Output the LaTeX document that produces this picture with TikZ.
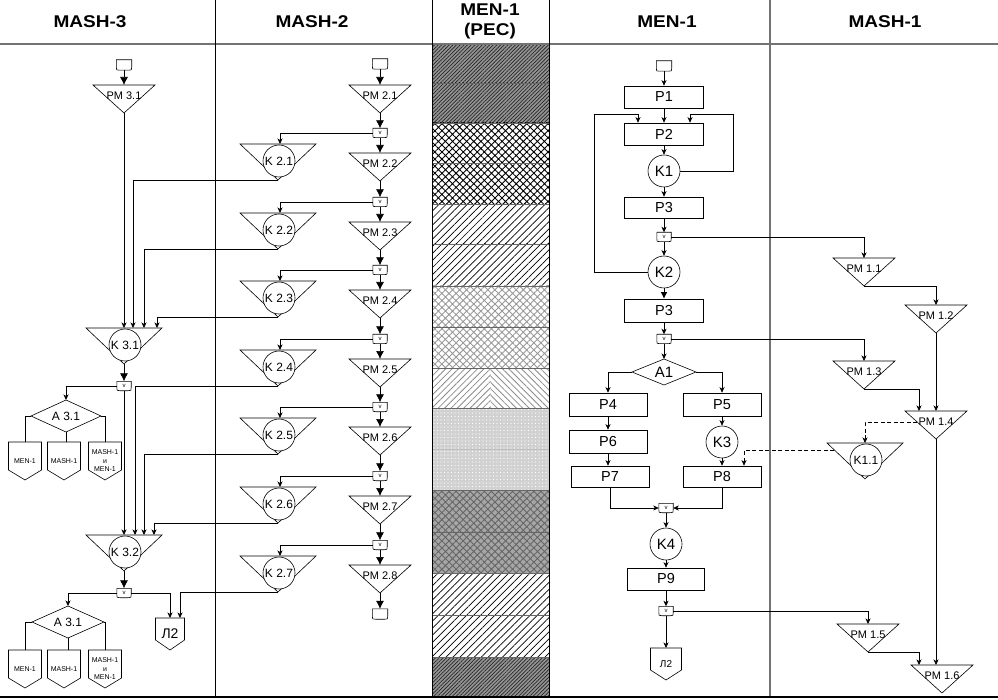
\documentclass[tikz,border=0pt]{standalone}
\usepackage{fontspec}
\setmainfont{Liberation Sans}
\newfontfamily\hdrfont[FakeStretch=1.12]{Liberation Sans}
\usetikzlibrary{arrows.meta,patterns.meta,calc}

\newcommand\mkpm[4]{%
  \draw[shp] (#2-31,#3) -- (#2+31,#3) -- (#2,#3+28) -- cycle;
  \node[pml] (#1) at (#2,#3+11) {#4};
  \coordinate (#1-t) at (#2,#3);
  \coordinate (#1-b) at (#2,#3+28);
  \coordinate (#1-w) at (#2-19,#3+11);}
\newcommand\mkk[4]{%
  \draw[shp] (#2-38,#3) -- (#2+38,#3) -- (#2,#3+36) -- cycle;
  \node[kcirc] (#1) at (#2+1,#3+17) {#4};
  \coordinate (#1-t) at (#2,#3);
  \coordinate (#1-b) at (#2,#3+36);
  \coordinate (#1-w) at (#2-31,#3+7);}
\newcommand\mkrb[5]{%
  \node[#4] (#1) at (#2,#3) {#5};
  \draw[shp] (#1.north west) -- (#1.north east) -- ([yshift=3pt]#1.south east) .. controls (#1.south east) .. ([xshift=-3pt]#1.south east) -- ([xshift=3pt]#1.south west) .. controls (#1.south west) .. ([yshift=3pt]#1.south west) -- cycle;}
\newcommand\mkoff[7]{%
  \draw[shp] (#2-#4/2,#3) -- (#2+#4/2,#3) -- (#2+#4/2,#3+#5) -- (#2,#3+#5+10) -- (#2-#4/2,#3+#5) -- cycle;
  \node[inner sep=0,align=center,#6] (#1) at (#2,#3+#5/2+5) {#7};
  \coordinate (#1-t) at (#2,#3);}
\newcommand\mkdmd[6]{%
  \draw[shp] (#2-#4,#3) -- (#2,#3-#5) -- (#2+#4,#3) -- (#2,#3+#5) -- cycle;
  \node[inner sep=0] (#1) at (#2,#3) {#6};
  \coordinate (#1-l) at (#2-#4,#3);
  \coordinate (#1-r) at (#2+#4,#3);
  \coordinate (#1-t) at (#2,#3-#5);
  \coordinate (#1-b) at (#2,#3+#5);}

\begin{document}
\begin{tikzpicture}[x=1pt,y=-1pt,
  shp/.style={draw=black,line width=0.6pt},
  ln/.style={draw=black,line width=0.7pt},
  arr/.style={ln,-{Stealth[length=5.5pt,width=5pt,inset=1.5pt]}},
  barr/.style={ln,-{Latex[length=8pt,width=8pt]}},
  darr/.style={arr,dash pattern=on 4pt off 2.5pt},
  pml/.style={font=\fontsize{11}{11}\selectfont,inner sep=0},
  kcirc/.style={circle,draw,line width=0.6pt,fill=white,minimum size=32pt,inner sep=0,font=\fontsize{12}{12}\selectfont},
  kbig/.style={kcirc,font=\fontsize{15}{15}\selectfont},
  prect/.style={draw,line width=0.6pt,minimum width=79pt,minimum height=22pt,inner sep=0,font=\fontsize{14.5}{14.5}\selectfont},
  vc/.style={minimum width=14pt,minimum height=9pt,inner sep=0,font=\fontsize{6}{6}\selectfont},
  tm/.style={minimum width=15pt,minimum height=10pt,inner sep=0},
  hdr/.style={font=\hdrfont\bfseries\fontsize{17}{20}\selectfont,align=center,inner sep=0},
  offs/.style={font=\fontsize{7}{8.5}\selectfont},
  offl/.style={font=\fontsize{14}{16}\selectfont},
  offm/.style={font=\fontsize{10}{12}\selectfont},
  bdark/.style={preaction={fill=black!42},pattern={Lines[angle=45,distance=2.6pt,line width=0.7pt]},pattern color=black!85},
  bcross/.style={pattern={Hatch[angle=45,distance=5pt,line width=0.9pt]},pattern color=black},
  bdiag/.style={pattern={Lines[angle=45,distance=5pt,line width=0.7pt]},pattern color=black},
  bgcross/.style={pattern={Hatch[angle=45,distance=5pt,line width=0.9pt]},pattern color=black!40},
  bchevL/.style={pattern={Lines[angle=45,distance=4.5pt,line width=0.8pt]},pattern color=black!45},
  bchevR/.style={pattern={Lines[angle=-45,distance=4.5pt,line width=0.8pt]},pattern color=black!45},
  blight/.style={preaction={fill=black!18},pattern={Dots[distance=3.5pt,radius=0.7pt]},pattern color=white},
  bdgcross/.style={preaction={fill=black!35},pattern={Hatch[angle=45,distance=5pt,line width=0.9pt]},pattern color=black!60}
]
\useasboundingbox (0,0) rectangle (998,700);
\fill[white] (0,0) rectangle (998,700);

% ---- hatched column MEN-1 (PEC)
\path[bdark] (432,45) rectangle (549,83);
\path[bdark] (432,83) rectangle (549,123);
\path[bcross] (432,123) rectangle (549,163);
\path[bcross] (432,163) rectangle (549,204);
\path[bdiag] (432,204) rectangle (549,244);
\path[bdiag] (432,244) rectangle (549,286);
\path[bgcross] (432,286) rectangle (549,327);
\path[bgcross] (432,327) rectangle (549,368);
\path[bchevL] (432,368) rectangle (490.5,408);
\path[bchevR] (490.5,368) rectangle (549,408);
\path[blight] (432,408) rectangle (549,449);
\path[blight] (432,449) rectangle (549,490);
\path[bdgcross] (432,490) rectangle (549,532);
\path[bdgcross] (432,532) rectangle (549,573);
\path[bdiag] (432,573) rectangle (549,615);
\path[bdiag] (432,615) rectangle (549,657);
\path[bdark] (432,657) rectangle (549,697);
\foreach \yy in {83,123,163,204,244,286,327,368,408,490,532,573,615,657}
  \draw[black!60,line width=0.6pt] (432,\yy) -- (549,\yy);
\draw[black!25,line width=0.5pt] (432,449) -- (549,449);

% ---- frame
\draw[black!55,line width=2pt] (0,44) -- (998,44);
\draw[line width=0.9pt] (215,0) -- (215,697);
\draw[line width=0.9pt] (432,0) -- (432,697);
\draw[line width=0.9pt] (549,0) -- (549,697);
\draw[black!55,line width=1.5pt] (770,0) -- (770,697);
\draw[line width=1.8pt] (0,697) -- (998,697);

\node[hdr] (hM3) at (90,22) {MASH-3};
\node[hdr] (hM2) at (312,22) {MASH-2};
\node[hdr] (hPEC) at (490,21) {MEN-1\\(PEC)};
\node[hdr] (hMEN) at (667,22) {MEN-1};
\node[hdr] (hM1) at (885,22) {MASH-1};

% ---- MASH-3
\mkrb{S3}{124}{65}{tm}{}
\mkpm{PM31}{124}{85}{PM 3.1}
\mkk{K31}{124}{328}{K 3.1}
\mkrb{v31}{124}{386}{vc}{v}
\mkdmd{A31a}{66}{416}{35}{16}{\fontsize{12}{12}\selectfont A 3.1}
\mkoff{O1a}{25}{442}{33}{28}{offs}{MEN-1}
\mkoff{O2a}{64}{442}{33}{28}{offs}{MASH-1}
\mkoff{O3a}{105}{442}{33}{28}{offs}{MASH-1\\и\\MEN-1}
\mkk{K32}{124}{535}{K 3.2}
\mkrb{v32}{124}{593}{vc}{v}
\mkdmd{A31b}{68}{622}{36}{16}{\fontsize{12}{12}\selectfont A 3.1}
\mkoff{O1b}{25}{650}{33}{28}{offs}{MEN-1}
\mkoff{O2b}{64}{650}{33}{28}{offs}{MASH-1}
\mkoff{O3b}{105}{650}{33}{28}{offs}{MASH-1\\и\\MEN-1}
\mkoff{L2a}{170}{618}{29}{22}{offl}{Л2}

\draw[barr] (S3) -- (PM31-t);
\draw[arr] (PM31-b) -- (K31-t);
\draw[barr] (K31-b) -- (v31);
\draw[arr] (v31.west) -| (A31a-t);
\draw[arr] (v31) -- (K32-t);
\draw[ln] (A31a-l) -| (O1a-t);
\draw[ln] (A31a-b) -- (A31a-b |- O2a-t);
\draw[ln] (A31a-r) -| (O3a-t);
\draw[barr] (K32-b) -- (v32);
\draw[arr] (v32.west) -| (A31b-t);
\draw[arr] (v32.east) -| (L2a-t);
\draw[ln] (A31b-l) -| (O1b-t);
\draw[ln] (A31b-b) -- (A31b-b |- O2b-t);
\draw[ln] (A31b-r) -| (O3b-t);

% ---- MASH-2
\mkrb{S2}{380}{64}{tm}{}
\mkpm{PM21}{380}{85}{PM 2.1}
\draw[barr] (S2) -- (PM21-t);
\foreach \i/\yy/\nn in {1/133/2,2/202/3,3/270/4,4/339/5,5/407/6,6/476/7,7/545/8}{
  \mkrb{v2\i}{380}{\yy}{vc}{v}
  \mkk{K2\i}{278}{\yy+11}{K 2.\i}
  \mkpm{PM2\nn}{380}{\yy+20}{PM 2.\nn}
  \draw[barr] (PM2\i-b) -- (v2\i);
  \draw[arr] (v2\i.west) -| ([xshift=2pt]K2\i-t);
  \draw[barr] (v2\i) -- (PM2\nn-t);
}
\mkrb{E2}{380}{614}{tm}{}
\draw[barr] (PM28-b) -- (E2);

\draw[arr] (K21-b) -| ([xshift=9pt]K31-t);
\draw[arr] (K22-b) -| ([xshift=20pt]K31-t);
\draw[arr] (K23-b) -| ([xshift=33pt]K31-t);
\draw[arr] (K24-b) -| ([xshift=11pt]K32-t);
\draw[arr] (K25-b) -| ([xshift=20pt]K32-t);
\draw[arr] (K26-b) -| ([xshift=30pt]K32-t);
\draw[arr] (K27-b) -| ([xshift=10pt]L2a-t);

% ---- MEN-1
\mkrb{S1}{664}{66}{tm}{}
\node[prect] (P1) at (664,97) {P1};
\node[prect] (P2) at (664,134) {P2};
\node[kbig] (K1) at (664,171) {K1};
\node[prect,minimum height=21pt] (P3a) at (664,207.5) {P3};
\mkrb{v1a}{664}{237}{vc}{v}
\node[kbig] (K2) at (664,272) {K2};
\node[prect,minimum height=23pt] (P3b) at (664,310.5) {P3};
\mkrb{v1b}{664}{339}{vc}{v}
\mkdmd{A1}{664}{372}{32}{13}{\fontsize{15}{15}\selectfont A1}
\node[prect,minimum width=78pt,minimum height=23pt] (P4) at (608,404.5) {P4};
\node[prect,minimum width=78pt,minimum height=23pt] (P5) at (722,404.5) {P5};
\node[prect,minimum width=78pt,minimum height=23pt] (P6) at (608,441.5) {P6};
\node[kbig] (K3) at (722,442) {K3};
\node[prect,minimum width=78pt,minimum height=21pt] (P7) at (610,476.5) {P7};
\node[prect,minimum width=78pt,minimum height=21pt] (P8) at (722,476.5) {P8};
\mkrb{v1c}{666}{508}{vc}{v}
\node[kbig] (K4) at (666,544) {K4};
\node[prect,minimum width=77pt] (P9) at (666,579) {P9};
\mkrb{v1d}{666}{611}{vc}{v}
\mkoff{L2b}{666}{648}{31}{22}{offm}{Л2}

\draw[arr] (S1) -- (P1);
\draw[arr] (P1) -- (P2);
\draw[arr] (P2) -- (K1);
\draw[arr] (K1.east) -| (733,114) -| ([xshift=26pt]P2.north);
\draw[arr] (K2.west) -| (594,114) -| ([xshift=-26pt]P2.north);
\draw[arr] (K1) -- (P3a);
\draw[arr] (P3a) -- (v1a);
\draw[arr] (v1a) -- (K2);
\draw[barr,-{Latex[length=6.5pt,width=6.5pt]}] (K2) -- (P3b);
\draw[arr] (P3b) -- (v1b);
\draw[arr] (v1b) -- (A1-t);
\draw[arr] (A1-l) -| (P4.north);
\draw[arr] (A1-r) -| (P5.north);
\draw[arr] (P4) -- (P6);
\draw[arr] (P6.south) -- (P6.south |- P7.north);
\draw[arr] (P5) -- (K3);
\draw[arr] (K3) -- (P8);
\draw[arr] (P7.south) |- (v1c.west);
\draw[arr] (P8.south) |- (v1c.east);
\draw[arr] (v1c) -- (K4);
\draw[arr] (K4) -- (P9);
\draw[arr] (P9) -- (v1d);
\draw[arr] (v1d) -- (L2b-t);

% ---- MASH-1
\mkpm{PM11}{864}{258}{PM 1.1}
\mkpm{PM12}{936}{305}{PM 1.2}
\mkpm{PM13}{864}{361}{PM 1.3}
\mkpm{PM14}{936}{411}{PM 1.4}
\mkk{K11}{865}{443}{K1.1}
\mkpm{PM15}{868}{624}{PM 1.5}
\mkpm{PM16}{942}{665}{PM 1.6}

\draw[arr] (v1a.east) -| (PM11-t);
\draw[arr] (v1b.east) -| (PM13-t);
\draw[arr] (v1d.east) -| (PM15-t);
\draw[arr] (PM11-b) -| (PM12-t);
\draw[arr] (PM12-b) -- (PM14-t);
\draw[arr] (PM13-b) -| ([xshift=-17pt]PM14-t);
\draw[arr] (PM14-b) -- (PM14-b |- PM16-t);
\draw[arr] (PM15-b) -| ([xshift=-23pt]PM16-t);
\draw[darr] (PM14-w) -| (K11-t);
\draw[darr] (K11-w) -| ([xshift=22pt]P8.north);
\end{tikzpicture}
\end{document}
